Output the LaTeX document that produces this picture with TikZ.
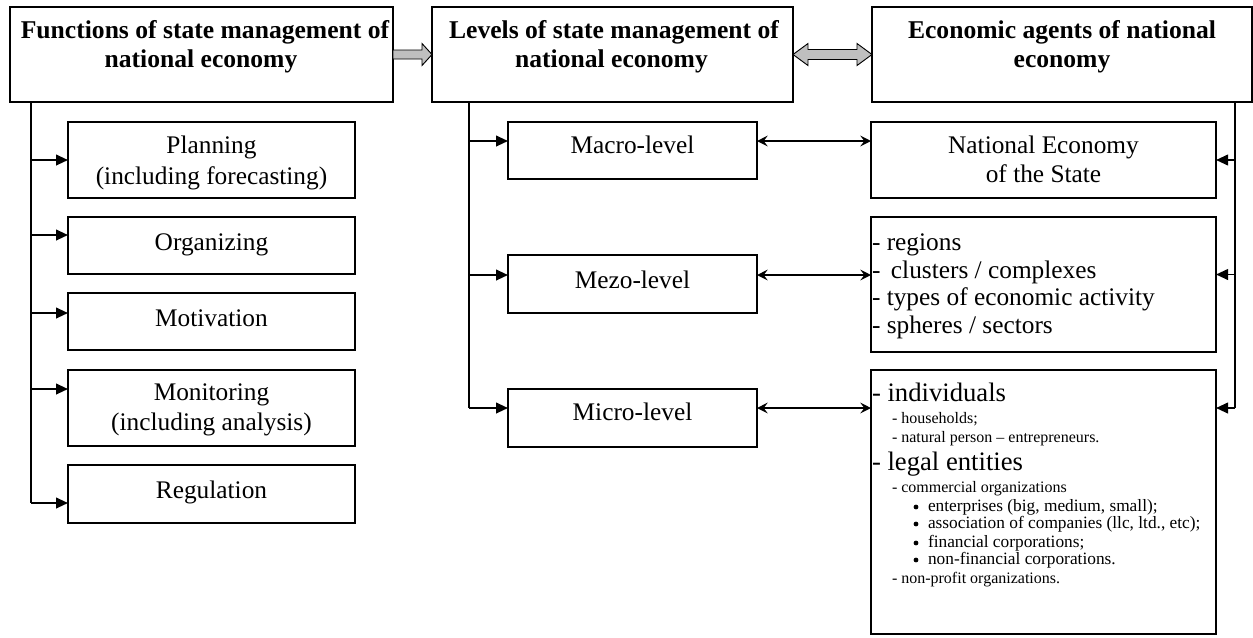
\documentclass[tikz,border=0pt]{standalone}
\usepackage{fontspec}
\setmainfont{Liberation Serif}
\usetikzlibrary{arrows.meta,calc}
\newcommand\fR{\fontsize{19}{23}\selectfont}
\newcommand\fB{\fontsize{19.2}{23}\selectfont\bfseries}
\newcommand\fL{\fontsize{20}{24}\selectfont}
\newcommand\fS{\fontsize{12}{14}\selectfont}
\newcommand\fM{\fontsize{13}{15}\selectfont}
\newcommand\boxnode[5]{\node[boxst, minimum width={(#4-#2)*0.75pt}, minimum height={(#5-#3)*0.75pt}] (#1) at ({(#2+#4)/2},{(#3+#5)/2}) {};}
\newcommand\tline[5]{\node[txt, anchor=#4] (#1) at (#2,#3) {#5};}
\begin{document}
\begin{tikzpicture}[x=0.75pt,y=-0.75pt,
  boxst/.style={draw, line width=0.8pt, inner sep=0pt, outer sep=0pt, fill=white},
  txt/.style={inner sep=0pt, outer sep=0pt},
  dotst/.style={circle, fill=black, inner sep=0pt, minimum size=3.6pt},
  vline/.style={line width=0.9pt},
  harr/.style={line width=1.5pt, -{Triangle[length=9pt,width=8pt]}},
  larr/.style={line width=1.4pt, -{Triangle[length=9pt,width=8pt]}},
  dbl/.style={line width=1.4pt, {Stealth[length=8pt,width=8pt,inset=3pt]}-{Stealth[length=8pt,width=8pt,inset=3pt]}},
  garr/.style={draw=black, line width=0.7pt, fill=black!25, line join=miter}]
\useasboundingbox (0,0) rectangle (1253,637);
% boxes
\boxnode{F}{10}{7}{393}{102}
\boxnode{L}{432}{7}{793}{102}
\boxnode{E}{872}{7}{1252}{102}
\boxnode{P}{68}{122}{355}{198}
\boxnode{O}{68}{217}{355}{274}
\boxnode{Mv}{68}{293}{355}{350}
\boxnode{Mo}{68}{370}{355}{446}
\boxnode{R}{68}{465}{355}{523}
\boxnode{Ma}{508}{122}{757}{179}
\boxnode{Me}{508}{255}{757}{313}
\boxnode{Mi}{508}{389}{757}{447}
\boxnode{NE}{871}{122}{1216}{198}
\boxnode{RM}{871}{217}{1216}{352}
\boxnode{RI}{871}{370}{1216}{634}
% heading texts
\tline{f1}{205}{38}{base}{\fB Functions of state management of}
\tline{f2}{201}{67}{base}{\fB national economy}
\tline{l1}{614}{38}{base}{\fB Levels of state management of}
\tline{l2}{611.5}{67}{base}{\fB national economy}
\tline{e1}{1062}{38}{base}{\fB Economic agents of national}
\tline{e2}{1062}{67}{base}{\fB economy}
% left column texts
\tline{p1}{211.5}{153}{base}{\fR Planning}
\tline{p2}{211.5}{184}{base}{\fR (including forecasting)}
\tline{o1}{211.5}{250}{base}{\fR Organizing}
\tline{mv1}{211.5}{326}{base}{\fR Motivation}
\tline{mo1}{211.5}{400}{base}{\fR Monitoring}
\tline{mo2}{211.5}{430}{base}{\fR (including analysis)}
\tline{r1}{211.5}{498}{base}{\fR Regulation}
% middle texts
\tline{ma1}{632.5}{153}{base}{\fR Macro-level}
\tline{me1}{632.5}{288}{base}{\fR Mezo-level}
\tline{mi1}{632.5}{420}{base}{\fR Micro-level}
% right texts
\tline{ne1}{1043.5}{153}{base}{\fR National Economy}
\tline{ne2}{1043.5}{182}{base}{\fR of the State}
\tline{rm1}{872}{250}{base west}{\fR - regions}
\tline{rm2}{872}{278}{base west}{\fR -\ \,clusters / complexes}
\tline{rm3}{872}{305}{base west}{\fR - types of economic activity}
\tline{rm4}{872}{333}{base west}{\fR - spheres / sectors}
\tline{ri1}{872}{401}{base west}{\fL - individuals}
\tline{ri2}{892}{423}{base west}{\fS - households;}
\tline{ri3}{892}{442}{base west}{\fS - natural person – entrepreneurs.}
\tline{ri4}{872}{470}{base west}{\fL - legal entities}
\tline{ri5}{892}{492}{base west}{\fS - commercial organizations}
\node[dotst] (b1) at (916,507) {};
\tline{ri6}{928}{511}{base west}{\fM enterprises (big, medium, small);}
\node[dotst] (b2) at (916,524) {};
\tline{ri7}{928}{528}{base west}{\fM association of companies (llc, ltd., etc);}
\node[dotst] (b3) at (916,543) {};
\tline{ri8}{928}{547}{base west}{\fM financial corporations;}
\node[dotst] (b4) at (916,560) {};
\tline{ri9}{928}{564}{base west}{\fM non-financial corporations.}
\tline{ri10}{892}{583}{base west}{\fS - non-profit organizations.}
% gray block arrows
\draw[garr] ($(F.east)+(0,-4.5)$) -- ($(L.west)+(-10,-4.5)$) -- ($(L.west)+(-10,-11)$) -- (L.west) -- ($(L.west)+(-10,11)$) -- ($(L.west)+(-10,4.5)$) -- ($(F.east)+(0,4.5)$) -- cycle;
\draw[garr] (L.east) -- ++(15,-11) -- ++(0,6) -- ($(E.west)+(-15,-5)$) -- ++(0,-6) -- (E.west) -- ++(-15,11) -- ++(0,-6) -- ($(L.east)+(15,5)$) -- ++(0,6) -- cycle;
% left branch
\coordinate (lv) at (31,102);
\coordinate (oA) at ($(O.west)+(0,-10.5)$);
\coordinate (mvA) at ($(Mv.west)+(0,-8.5)$);
\coordinate (moA) at ($(Mo.west)+(0,-19)$);
\coordinate (rA) at ($(R.west)+(0,9)$);
\draw[vline] (F.south -| lv) -- (rA -| lv);
\draw[harr] (P.west -| lv) -- (P.west);
\draw[harr] (oA -| lv) -- (oA);
\draw[harr] (mvA -| lv) -- (mvA);
\draw[harr] (moA -| lv) -- (moA);
\draw[harr] (rA -| lv) -- (rA);
% middle branch
\coordinate (mv) at (469,102);
\coordinate (maA) at ($(Ma.west)+(0,-9.5)$);
\coordinate (meA) at ($(Me.west)+(0,-9)$);
\coordinate (miA) at ($(Mi.west)+(0,-10)$);
\draw[vline] (L.south -| mv) -- (miA -| mv);
\draw[harr] (maA -| mv) -- (maA);
\draw[harr] (meA -| mv) -- (meA);
\draw[harr] (miA -| mv) -- (miA);
% double arrows
\coordinate (maE) at ($(Ma.east)+(0,-9.5)$);
\coordinate (meE) at ($(Me.east)+(0,-9)$);
\coordinate (miE) at ($(Mi.east)+(0,-10)$);
\draw[dbl] (maE) -- (maE -| NE.west);
\draw[dbl] (meE) -- (meE -| RM.west);
\draw[dbl] (miE) -- (miE -| RI.west);
% right branch
\coordinate (rv) at (1235,102);
\coordinate (rmA) at ($(RM.east)+(0,-10)$);
\coordinate (riA) at ($(RI.east)+(0,-94)$);
\draw[vline] (E.south -| rv) -- (riA -| rv);
\draw[larr] (NE.east -| rv) -- (NE.east);
\draw[larr] (rmA -| rv) -- (rmA);
\draw[larr] (riA -| rv) -- (riA);
\end{tikzpicture}
\end{document}
